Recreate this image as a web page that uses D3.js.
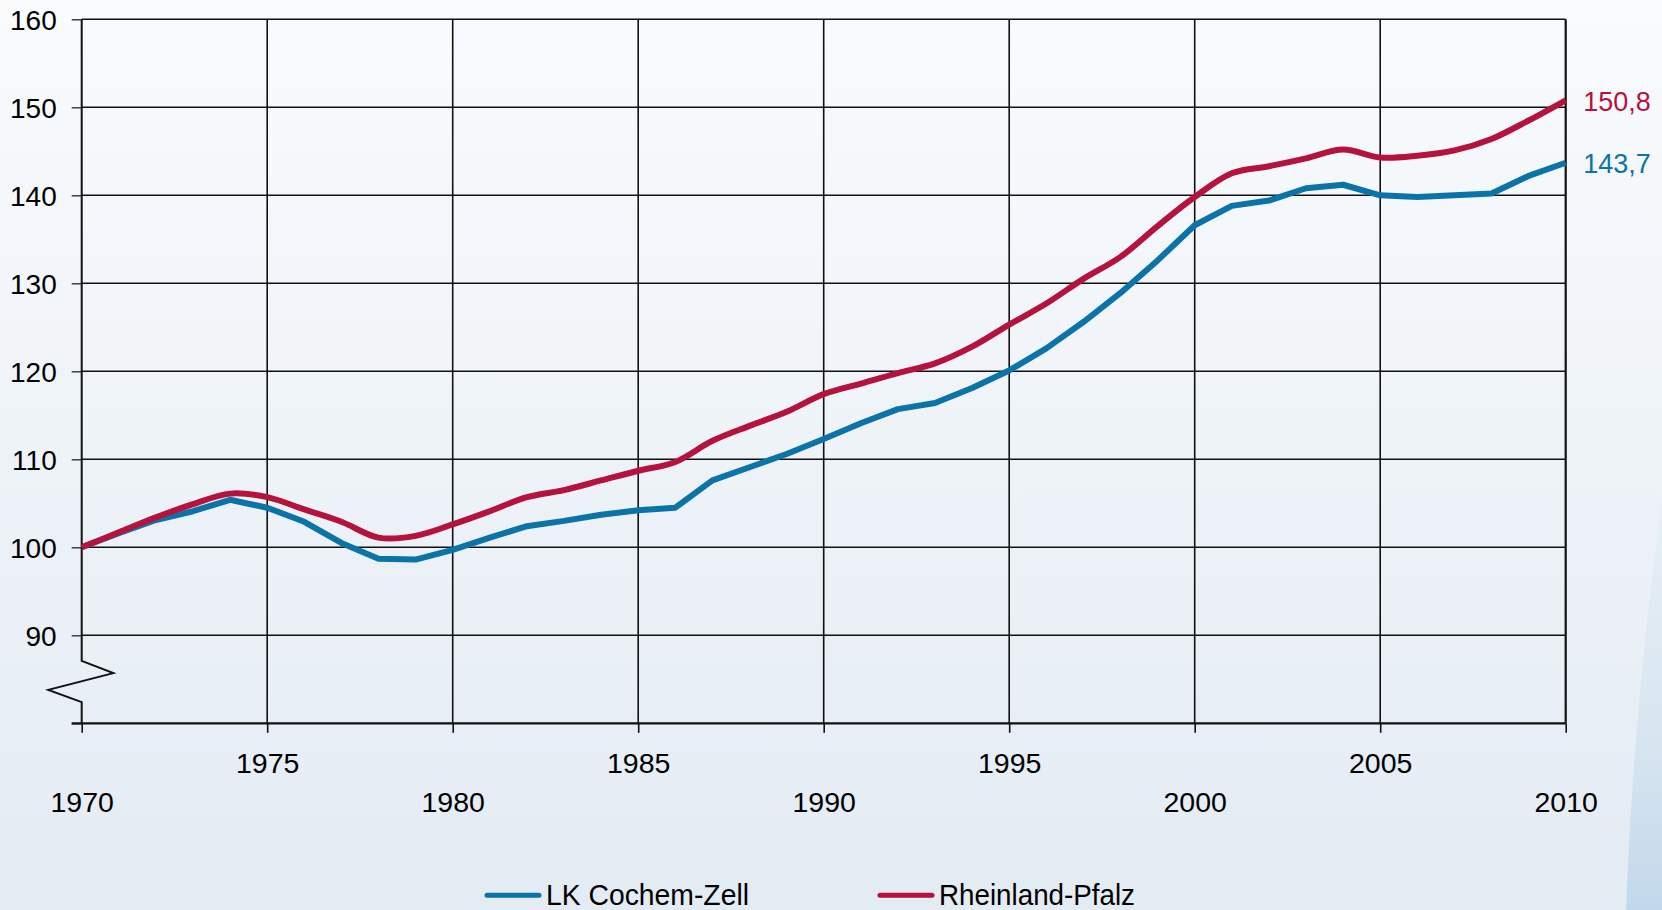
<!DOCTYPE html>
<html>
<head>
<meta charset="utf-8">
<script src="https://cdn.jsdelivr.net/npm/d3@7"></script>
<style>
	html, body { margin: 0; padding: 0; overflow: hidden; }
	body { width: 1662px; height: 910px; }
	text { font-family: "Liberation Sans", Arial, sans-serif; }
</style>
</head>
<body>
<div id="chart"></div>
<script>
// <!-- ================================= -->
// <!-- DATA (index, 1970 = 100) -->
// <!-- ================================= -->
var years = [1970, 1971, 1972, 1973, 1974, 1975, 1976, 1977, 1978, 1979,
	1980, 1981, 1982, 1983, 1984, 1985, 1986, 1987, 1988, 1989,
	1990, 1991, 1992, 1993, 1994, 1995, 1996, 1997, 1998, 1999,
	2000, 2001, 2002, 2003, 2004, 2005, 2006, 2007, 2008, 2009, 2010];

var cochemZell = [100.0, 101.6, 103.1, 104.1, 105.4, 104.5, 102.9, 100.5, 98.7, 98.6,
	99.7, 101.1, 102.4, 103.0, 103.7, 104.2, 104.5, 107.6, 109.1, 110.6,
	112.3, 114.1, 115.7, 116.4, 118.1, 120.1, 122.6, 125.6, 128.9, 132.6,
	136.6, 138.8, 139.4, 140.8, 141.2, 140.0, 139.8, 140.0, 140.2, 142.2, 143.7];

var rheinlandPfalz = [100.0, 101.7, 103.4, 104.9, 106.1, 105.7, 104.3, 102.9, 101.1, 101.3,
	102.6, 104.1, 105.7, 106.5, 107.6, 108.7, 109.7, 112.1, 113.8, 115.4,
	117.4, 118.6, 119.8, 120.9, 122.8, 125.3, 127.7, 130.5, 133.0, 136.5,
	139.8, 142.5, 143.3, 144.2, 145.2, 144.3, 144.5, 145.1, 146.4, 148.5, 150.8];

var seriesNames = ['LK Cochem-Zell', 'Rheinland-Pfalz'];
var endLabels = ['143,7', '150,8'];
var xTicks = [1970, 1975, 1980, 1985, 1990, 1995, 2000, 2005, 2010];
var yTicks = [80, 90, 100, 110, 120, 130, 140, 150, 160];

// <!-- ================================= -->
// <!-- SETUP -->
// <!-- ================================= -->
var width = 1662;
var height = 910;
var colors = ['#0a73a7', '#b5123e'];

var x = d3.scaleLinear().domain([1970, 2010]).range([81.7, 1565.7]);
var y = d3.scaleLinear().domain([80, 160]).range([723.3, 19.3]);

var svg = d3.select('#chart')
	.append('svg')
	.attr('width', width)
	.attr('height', height);

// background gradient + swoosh at the bottom right
var defs = svg.append('defs');
var bg = defs.append('linearGradient').attr('id', 'bg')
	.attr('x1', 0).attr('y1', 0).attr('x2', 0).attr('y2', 1);
bg.append('stop').attr('offset', '0%').attr('stop-color', '#f9fbfd');
bg.append('stop').attr('offset', '100%').attr('stop-color', '#e3ebf3');

var sw = defs.append('linearGradient').attr('id', 'swoosh')
	.attr('x1', 0).attr('y1', 0).attr('x2', 0).attr('y2', 1);
sw.append('stop').attr('offset', '0%').attr('stop-color', '#e8eff6');
sw.append('stop').attr('offset', '60%').attr('stop-color', '#d7e5f0');
sw.append('stop').attr('offset', '100%').attr('stop-color', '#c2d8ea');

svg.append('rect')
	.attr('width', width)
	.attr('height', height)
	.attr('fill', 'url(#bg)');

svg.append('path')
	.attr('d', 'M1662,500 Q1634,700 1626,910 L1662,910 Z')
	.attr('fill', 'url(#swoosh)');

// <!-- ================================= -->
// <!-- GRID -->
// <!-- ================================= -->
var grid = svg.append('g');

grid.selectAll('.hgrid')
	.data(yTicks.slice(1))
	.enter()
	.append('line')
	.attr('x1', x(1970))
	.attr('x2', x(2010))
	.attr('y1', function (d) { return y(d); })
	.attr('y2', function (d) { return y(d); })
	.attr('stroke', '#111')
	.attr('stroke-width', 1.4);

grid.selectAll('.vgrid')
	.data(xTicks.slice(1))
	.enter()
	.append('line')
	.attr('x1', function (d) { return x(d); })
	.attr('x2', function (d) { return x(d); })
	.attr('y1', y(160))
	.attr('y2', y(80))
	.attr('stroke', '#111')
	.attr('stroke-width', function (d) { return d === 2010 ? 2.2 : 1.6; });

// <!-- ================================= -->
// <!-- AXES -->
// <!-- ================================= -->
var yAxis = svg.append('g')
	.attr('transform', 'translate(' + x(1970) + ',0)')
	.call(d3.axisLeft(y).tickValues(yTicks).tickSize(10).tickPadding(15)
		.tickFormat(function (d) { return d === 80 ? '' : d; }));
yAxis.select('.domain').remove();
yAxis.selectAll('line').attr('stroke', '#333').attr('stroke-width', 1.4);
yAxis.selectAll('text')
	.attr('font-size', '28px')
	.attr('font-family', '"Liberation Sans", Arial, sans-serif')
	.attr('fill', '#000')
	.attr('dy', '0.37em');

var xAxis = svg.append('g')
	.attr('transform', 'translate(0,' + y(80) + ')')
	.call(d3.axisBottom(x).tickValues(xTicks).tickSize(9.5).tickFormat(d3.format('d')));
xAxis.select('.domain').remove();
xAxis.selectAll('line').attr('stroke', '#111').attr('stroke-width', 1.6);
xAxis.selectAll('text')
	.attr('font-size', '28.5px')
	.attr('font-family', '"Liberation Sans", Arial, sans-serif')
	.attr('fill', '#000')
	.attr('dy', null)
	.attr('y', function (d) { return d % 10 === 0 ? 88.4 : 50; });

// bottom axis line
svg.append('line')
	.attr('x1', x(1970) - 10)
	.attr('x2', x(2010))
	.attr('y1', y(80))
	.attr('y2', y(80))
	.attr('stroke', '#111')
	.attr('stroke-width', 2.2);

// left axis with the break (zigzag) between 80 and 90
var breakTop = y(87.1);
var breakBottom = y(82.4);
var x0 = x(1970);
svg.append('path')
	.attr('d', d3.line()([
		[x0, y(160)],
		[x0, breakTop],
		[x0 + 31.6, breakTop + 12.3],
		[x0 - 33.4, breakTop + 29],
		[x0, breakBottom],
		[x0, y(80)]
	]))
	.attr('fill', 'none')
	.attr('stroke', '#111')
	.attr('stroke-width', 2);

// <!-- ================================= -->
// <!-- LINES -->
// <!-- ================================= -->
var series = [cochemZell, rheinlandPfalz];
var curves = [d3.curveLinear, d3.curveCatmullRom.alpha(0.5)];

series.forEach(function (values, i) {
	var line = d3.line()
		.x(function (d, j) { return x(years[j]); })
		.y(function (d) { return y(d); })
		.curve(curves[i]);

	svg.append('path')
		.datum(values)
		.attr('d', line)
		.attr('fill', 'none')
		.attr('stroke', colors[i])
		.attr('stroke-width', 6)
		.attr('stroke-linejoin', 'round');

	// value at the end of the line
	svg.append('text')
		.attr('x', x(2010) + 17.6)
		.attr('y', y(values[values.length - 1]) + 10.5)
		.attr('font-size', '27px')
		.attr('fill', colors[i])
		.text(endLabels[i]);
});

// <!-- ================================= -->
// <!-- LEGEND -->
// <!-- ================================= -->
var legendX = [487, 880];
var legendW = [203, 196];

var legend = svg.selectAll('.legend')
	.data(seriesNames)
	.enter()
	.append('g')
	.attr('class', 'legend')
	.attr('transform', function (d, i) { return 'translate(' + legendX[i] + ',895.3)'; });

legend.append('line')
	.attr('x1', 0)
	.attr('x2', 52)
	.attr('stroke', function (d, i) { return colors[i]; })
	.attr('stroke-width', 5)
	.attr('stroke-linecap', 'round');

legend.append('text')
	.attr('x', 59)
	.attr('y', 10)
	.attr('font-size', '29px')
	.attr('fill', '#000')
	.attr('textLength', function (d, i) { return legendW[i]; })
	.attr('lengthAdjust', 'spacingAndGlyphs')
	.text(function (d) { return d; });
</script>
</body>
</html>
